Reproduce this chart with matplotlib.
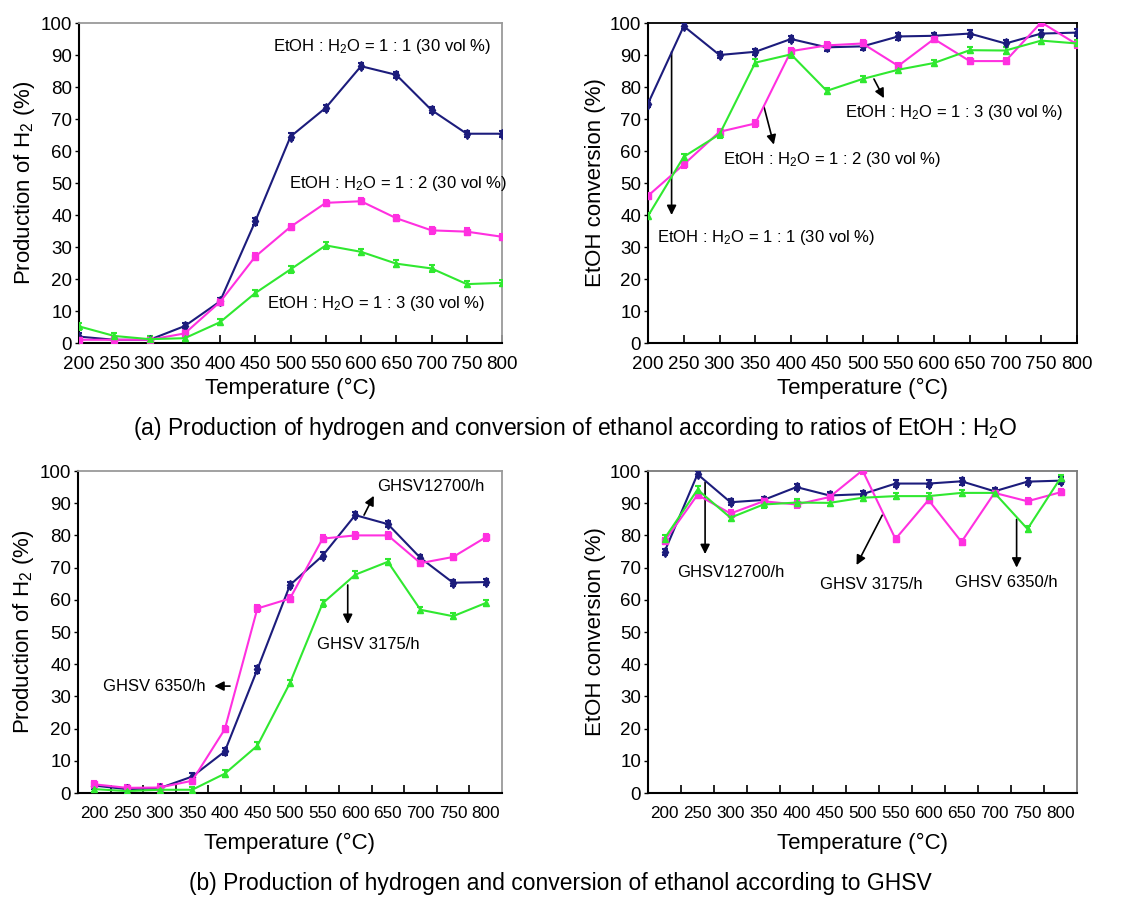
import matplotlib
matplotlib.use("Agg")
import matplotlib.pyplot as plt
import numpy as np

plt.rcParams['font.family'] = ['Liberation Sans', 'DejaVu Sans']
plt.rcParams['mathtext.default'] = 'regular'

# Temperatures (°C)
temps = [200, 250, 300, 350, 400, 450, 500, 550, 600, 650, 700, 750, 800]
temp_labels = [str(t) for t in temps]

# (a) H2 production (%) by EtOH:H2O ratio
h2_ratio_11 = [2.0, 1.0, 1.0, 5.3, 13.0, 38.0, 64.5, 73.5, 86.5, 83.8, 72.8, 65.4, 65.4]
h2_ratio_12 = [1.0, 1.0, 1.0, 3.0, 12.8, 27.0, 36.3, 43.8, 44.3, 39.0, 35.2, 34.8, 33.2]
h2_ratio_13 = [5.2, 2.2, 1.2, 1.5, 6.5, 15.6, 23.0, 30.5, 28.5, 24.8, 23.3, 18.4, 18.8]

# (a) EtOH conversion (%) by EtOH:H2O ratio
conv_ratio_11 = [74.8, 99.0, 90.0, 91.0, 95.0, 92.4, 92.7, 95.8, 96.0, 96.7, 93.6, 96.7, 97.0]
conv_ratio_12 = [46.0, 55.8, 66.0, 68.6, 91.2, 93.0, 93.6, 86.6, 95.0, 88.1, 88.1, 100.2, 93.3]
conv_ratio_13 = [39.7, 58.2, 65.2, 87.6, 90.2, 78.8, 82.5, 85.4, 87.5, 91.5, 91.4, 94.5, 93.6]

# (b) H2 production (%) by GHSV
h2_ghsv_12700 = [2.3, 1.2, 1.5, 5.1, 12.9, 38.4, 64.6, 73.7, 86.3, 83.5, 73.0, 65.3, 65.5]
h2_ghsv_6350 = [2.7, 1.6, 1.7, 3.8, 19.8, 57.3, 60.4, 79.0, 80.0, 80.0, 71.4, 73.3, 79.4]
h2_ghsv_3175 = [1.2, 0.6, 1.0, 1.0, 6.0, 14.7, 34.2, 58.9, 67.8, 71.8, 56.9, 54.9, 59.0]

# (b) EtOH conversion (%) by GHSV
conv_ghsv_12700 = [74.9, 99.0, 90.3, 91.0, 95.0, 92.4, 92.8, 96.1, 96.1, 96.8, 93.7, 96.7, 97.0]
conv_ghsv_6350 = [78.2, 92.6, 86.8, 90.6, 89.6, 91.9, 100.2, 78.9, 91.0, 78.0, 93.2, 90.6, 93.4]
conv_ghsv_3175 = [79.0, 94.2, 85.5, 89.6, 90.2, 90.1, 91.7, 92.2, 92.2, 93.2, 93.2, 82.0, 97.8]

NAVY = '#1c1c7c'
MAGENTA = '#ff30e0'
GREEN = '#30e830'
ERR = 1.0

W, H = 1138, 897
fig = plt.figure(figsize=(W / 100, H / 100), dpi=100)


def px_axes(l, r, t, b):
    return fig.add_axes([l / W, 1 - b / H, (r - l) / W, (b - t) / H])


def draw_series(ax, x, y, color, marker, ms):
    ax.errorbar(x, y, yerr=ERR, color=color, marker=marker, ms=ms, lw=1.5,
                capsize=2.5, elinewidth=1.5, capthick=1.5, zorder=3)


def style(ax, top_right_color, xsize):
    for s in ['left', 'bottom']:
        ax.spines[s].set_color('black')
        ax.spines[s].set_linewidth(1.5)
    for s in ['top', 'right']:
        ax.spines[s].set_color(top_right_color)
        ax.spines[s].set_linewidth(1.3)
    ax.set_ylim(0, 100)
    ax.set_yticks(np.arange(0, 101, 10))
    ax.tick_params(axis='y', direction='out', length=3, width=1, labelsize=13.5, pad=2)
    ax.tick_params(axis='x', labelsize=xsize)


def arrow(ax, start, end):
    ax.annotate('', xy=end, xytext=start,
                arrowprops=dict(arrowstyle='-|>', color='black', lw=1.2,
                                mutation_scale=14, shrinkA=0, shrinkB=0))


ann_kw = dict(fontsize=12, color='black', va='center', ha='left')
LABEL_FS = 16

# ---------- (a) left: H2 production vs ratio ----------
ax1 = px_axes(79, 502, 23, 343)
draw_series(ax1, temps, h2_ratio_11, NAVY, 'd', 5)
draw_series(ax1, temps, h2_ratio_12, MAGENTA, 's', 4)
draw_series(ax1, temps, h2_ratio_13, GREEN, '^', 5)
style(ax1, '#9a9a9a', 13.5)
ax1.set_xlim(200, 800)
ax1.set_xticks(temps)
ax1.tick_params(axis='x', direction='in', length=6, width=1.2, pad=9)
ax1.set_xlabel('Temperature (°C)', fontsize=LABEL_FS, labelpad=4)
ax1.set_ylabel('Production of H$_2$ (%)', fontsize=LABEL_FS, labelpad=3)
ax1.text(475, 92.5, 'EtOH : H$_2$O = 1 : 1 (30 vol %)', **ann_kw)
ax1.text(498, 50, 'EtOH : H$_2$O = 1 : 2 (30 vol %)', **ann_kw)
ax1.text(467, 12.5, 'EtOH : H$_2$O = 1 : 3 (30 vol %)', **ann_kw)

# ---------- (a) right: conversion vs ratio ----------
ax2 = px_axes(648, 1077, 23, 343)
draw_series(ax2, temps, conv_ratio_11, NAVY, 'd', 5)
draw_series(ax2, temps, conv_ratio_12, MAGENTA, 's', 4)
draw_series(ax2, temps, conv_ratio_13, GREEN, '^', 5)
style(ax2, 'black', 13.5)
ax2.set_xlim(200, 800)
ax2.set_xticks(temps)
ax2.tick_params(axis='x', direction='in', length=6, width=1.2, pad=9)
ax2.set_xlabel('Temperature (°C)', fontsize=LABEL_FS, labelpad=4)
ax2.set_ylabel('EtOH conversion (%)', fontsize=LABEL_FS, labelpad=3)
ax2.text(475, 72, 'EtOH : H$_2$O = 1 : 3 (30 vol %)', **ann_kw)
ax2.text(305, 57.5, 'EtOH : H$_2$O = 1 : 2 (30 vol %)', **ann_kw)
ax2.text(212, 33, 'EtOH : H$_2$O = 1 : 1 (30 vol %)', **ann_kw)
arrow(ax2, (233, 91), (233, 40))
arrow(ax2, (362, 74), (376, 62))
arrow(ax2, (516, 82.5), (530, 76.5))

# ---------- (b) left: H2 production vs GHSV ----------
idx = np.arange(len(temps))
ax3 = px_axes(78, 502, 471, 793)
draw_series(ax3, idx, h2_ghsv_12700, NAVY, 'd', 5)
draw_series(ax3, idx, h2_ghsv_6350, MAGENTA, 's', 4)
draw_series(ax3, idx, h2_ghsv_3175, GREEN, '^', 5)
style(ax3, '#9a9a9a', 12.3)
ax3.set_xlim(-0.5, len(temps) - 0.5)
ax3.set_xticks(idx)
ax3.set_xticklabels(temp_labels)
ax3.set_xticks(idx[:-1] + 0.5, minor=True)
ax3.tick_params(axis='x', which='major', length=0, pad=9)
ax3.tick_params(axis='x', which='minor', direction='in', length=6, width=1.2)
ax3.set_xlabel('Temperature (°C)', fontsize=LABEL_FS, labelpad=9)
ax3.set_ylabel('Production of H$_2$ (%)', fontsize=LABEL_FS, labelpad=3)
ax3.text(8.67, 95.3, 'GHSV12700/h', **ann_kw)
ax3.text(6.83, 46, 'GHSV 3175/h', **ann_kw)
ax3.text(0.27, 33, 'GHSV 6350/h', **ann_kw)
arrow(ax3, (8.27, 86.3), (8.57, 92.3))
arrow(ax3, (7.77, 64.6), (7.77, 52.5))
arrow(ax3, (4.16, 33.2), (3.68, 33.2))

# ---------- (b) right: conversion vs GHSV ----------
ax4 = px_axes(648, 1077, 471, 793)
draw_series(ax4, idx, conv_ghsv_12700, NAVY, 'd', 5)
draw_series(ax4, idx, conv_ghsv_6350, MAGENTA, 's', 4)
draw_series(ax4, idx, conv_ghsv_3175, GREEN, '^', 5)
style(ax4, '#7a7a7a', 12.3)
ax4.set_xlim(-0.5, len(temps) - 0.5)
ax4.set_xticks(idx)
ax4.set_xticklabels(temp_labels)
ax4.set_xticks(idx[:-1] + 0.5, minor=True)
ax4.tick_params(axis='x', which='major', length=0, pad=9)
ax4.tick_params(axis='x', which='minor', direction='in', length=6, width=1.2)
ax4.set_xlabel('Temperature (°C)', fontsize=LABEL_FS, labelpad=9)
ax4.set_ylabel('EtOH conversion (%)', fontsize=LABEL_FS, labelpad=3)
ax4.text(0.38, 68.4, 'GHSV12700/h', **ann_kw)
ax4.text(4.71, 64.6, 'GHSV 3175/h', **ann_kw)
ax4.text(8.8, 65.3, 'GHSV 6350/h', **ann_kw)
arrow(ax4, (1.23, 96.5), (1.23, 74.2))
arrow(ax4, (6.6, 86.3), (5.82, 70.8))
arrow(ax4, (10.67, 85.0), (10.67, 70.0))

# Captions
fig.text(575 / W, 1 - 428 / H,
         '(a) Production of hydrogen and conversion of ethanol according to ratios of EtOH : H$_2$O',
         fontsize=16.5, ha='center', va='center')
fig.text(560 / W, 1 - 883 / H,
         '(b) Production of hydrogen and conversion of ethanol according to GHSV',
         fontsize=16.5, ha='center', va='center')

fig.savefig('out.png', dpi=100)
